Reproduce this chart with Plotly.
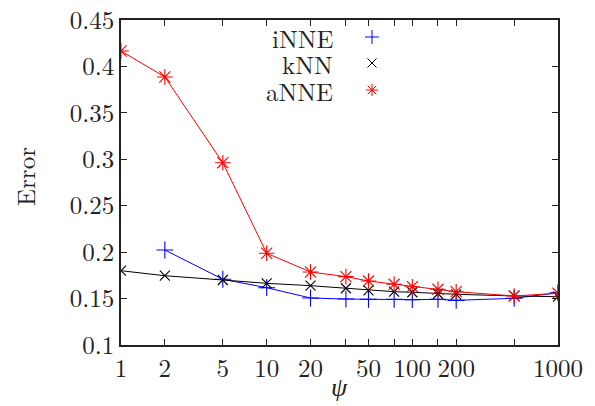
import plotly.graph_objects as go

psi = [1, 2, 5, 10, 20, 35, 50, 75, 100, 150, 200, 500, 1000]
x_tick_labels = ["1", "2", "5", "10", "20", "", "50", "", "100", "", "200", "", "1000"]

inne_psi = [2, 5, 10, 20, 35, 50, 75, 100, 150, 200, 500, 1000]
inne = [0.2023, 0.1708, 0.1617, 0.1506, 0.1495, 0.1492, 0.1492, 0.1488, 0.1492, 0.1481, 0.1503, 0.1563]
knn = [0.1800, 0.1746, 0.1700, 0.1664, 0.1639, 0.1611, 0.1589, 0.1574, 0.1568, 0.1552, 0.1546, 0.1528, 0.1520]
anne = [0.4166, 0.3886, 0.2963, 0.1988, 0.1786, 0.1736, 0.1689, 0.1654, 0.1628, 0.1600, 0.1574, 0.1528, 0.1557]

series_names = ["iNNE", "kNN", "aNNE"]
series_colors = ["#0000ff", "#000000", "#ff0000"]
series_symbols = ["cross-thin-open", "x-thin-open", "asterisk-open"]
series_sizes = [12, 10, 13]
key_sizes = [10, 9, 10]

y_ticks = [0.1, 0.15, 0.2, 0.25, 0.3, 0.35, 0.4, 0.45]
y_tick_labels = ["0.1", "0.15", "0.2", "0.25", "0.3", "0.35", "0.4", "0.45"]

font = "Latin Modern Roman, CMU Serif, Liberation Serif, serif"
txt = "#222222"

fig = go.Figure()
xs = [inne_psi, psi, psi]
ys = [inne, knn, anne]
for i in range(3):
    fig.add_trace(go.Scatter(
        x=xs[i], y=ys[i], name=series_names[i], mode="lines+markers", showlegend=False,
        line=dict(color=series_colors[i], width=1),
        marker=dict(symbol=series_symbols[i], size=series_sizes[i],
                    line=dict(color=series_colors[i], width=1.1))))

# key: gnuplot-style (label right-aligned, sample on the right)
key_y = [0.9477, 0.8677, 0.7846]
legend_names = ["legend", "legend2", "legend3"]
layout_legends = {}
for i in range(3):
    fig.add_trace(go.Scatter(
        x=[None], y=[None], name="", mode="markers", showlegend=True,
        legend=legend_names[i],
        marker=dict(symbol=series_symbols[i], size=key_sizes[i], color=series_colors[i],
                    line=dict(color=series_colors[i], width=1))))
    layout_legends[legend_names[i]] = dict(
        x=0.5286, y=key_y[i], xanchor="left", yanchor="middle",
        bgcolor="rgba(0,0,0,0)", font=dict(size=20), itemwidth=30)
    fig.add_annotation(x=0.4897, y=key_y[i], xref="paper", yref="paper",
                       text=series_names[i], showarrow=False, xanchor="right", yanchor="middle",
                       height=22, font=dict(family=font, size=25, color=txt))

# axis titles
fig.add_annotation(x=0.5, y=-0.126, xref="paper", yref="paper", text="<i>ψ</i>",
                   showarrow=False, xanchor="center", yanchor="middle",
                   font=dict(family=font, size=26, color=txt))
fig.add_annotation(x=-0.222, y=0.52, xref="paper", yref="paper", text="Error",
                   showarrow=False, xanchor="center", yanchor="middle", textangle=-90,
                   font=dict(family=font, size=25, color=txt))

fig.update_layout(
    width=595, height=406,
    margin=dict(l=121, r=37, t=20, b=61),
    paper_bgcolor="white", plot_bgcolor="white",
    font=dict(family=font, size=25, color=txt),
    showlegend=True,
    **layout_legends,
)
fig.update_xaxes(type="log", range=[0, 3], tickvals=psi, ticktext=x_tick_labels,
                 ticks="inside", ticklen=6, tickcolor=txt, showgrid=False, zeroline=False,
                 showline=True, linecolor=txt, linewidth=1.5, mirror="allticks", automargin=False,
                 ticklabeloverflow="allow")
fig.update_yaxes(range=[0.1, 0.45], tickvals=y_ticks, ticktext=y_tick_labels,
                 ticks="inside", ticklen=6, tickcolor=txt, showgrid=False, zeroline=False,
                 showline=True, linecolor=txt, linewidth=1.5, mirror="allticks", automargin=False,
                 ticklabeloverflow="allow")

# remove the default 8px page margin so the 595x406 figure fills the window exactly
fig.write_html("out.html", config={"displayModeBar": False},
               post_script="document.body.style.margin='0';document.body.style.overflow='hidden';")
